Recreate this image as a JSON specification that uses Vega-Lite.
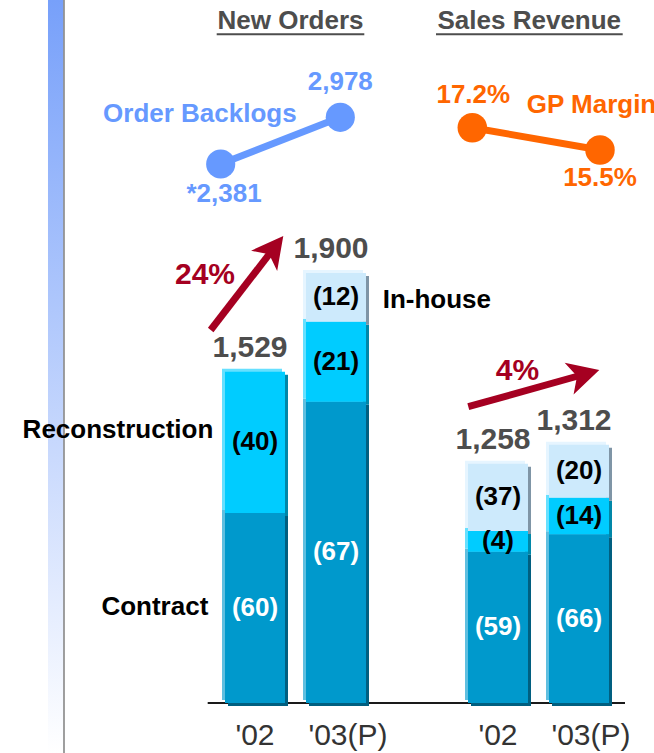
{
  "$schema": "https://vega.github.io/schema/vega-lite/v6.json",
  "width": 654,
  "height": 703,
  "autosize": "none",
  "padding": {"left": 0, "top": 0, "right": 0, "bottom": 50},
  "background": "#ffffff",
  "config": {"view": {"stroke": null}, "font": "Liberation Sans"},
  "datasets": {
    "bars": [
      {"chart": "New Orders", "period": "'02", "bar": "New Orders '02", "seg": "Contract", "ord": 1, "amount": 874, "pct": "(60)", "total": "1,529"},
      {"chart": "New Orders", "period": "'02", "bar": "New Orders '02", "seg": "Reconstruction", "ord": 2, "amount": 650, "pct": "(40)", "total": "1,529"},
      {"chart": "New Orders", "period": "'03(P)", "bar": "New Orders '03(P)", "seg": "Contract", "ord": 1, "amount": 1386, "pct": "(67)", "total": "1,900"},
      {"chart": "New Orders", "period": "'03(P)", "bar": "New Orders '03(P)", "seg": "Reconstruction", "ord": 2, "amount": 368, "pct": "(21)", "total": "1,900"},
      {"chart": "New Orders", "period": "'03(P)", "bar": "New Orders '03(P)", "seg": "In-house", "ord": 3, "amount": 224, "pct": "(12)", "total": "1,900"},
      {"chart": "Sales Revenue", "period": "'02", "bar": "Sales Revenue '02", "seg": "Contract", "ord": 1, "amount": 696, "pct": "(59)", "total": "1,258"},
      {"chart": "Sales Revenue", "period": "'02", "bar": "Sales Revenue '02", "seg": "Reconstruction", "ord": 2, "amount": 95, "pct": "(4)", "total": "1,258"},
      {"chart": "Sales Revenue", "period": "'02", "bar": "Sales Revenue '02", "seg": "In-house", "ord": 3, "amount": 310, "pct": "(37)", "total": "1,258"},
      {"chart": "Sales Revenue", "period": "'03(P)", "bar": "Sales Revenue '03(P)", "seg": "Contract", "ord": 1, "amount": 776, "pct": "(66)", "total": "1,312"},
      {"chart": "Sales Revenue", "period": "'03(P)", "bar": "Sales Revenue '03(P)", "seg": "Reconstruction", "ord": 2, "amount": 168, "pct": "(14)", "total": "1,312"},
      {"chart": "Sales Revenue", "period": "'03(P)", "bar": "Sales Revenue '03(P)", "seg": "In-house", "ord": 3, "amount": 244, "pct": "(20)", "total": "1,312"}
    ],
    "backlog": [
      {"series": "Order Backlogs", "period": "'02", "value": 2381, "label": "*2,381"},
      {"series": "Order Backlogs", "period": "'03(P)", "value": 2978, "label": "2,978"}
    ],
    "margin": [
      {"series": "GP Margin", "period": "'02", "value": 17.2, "label": "17.2%"},
      {"series": "GP Margin", "period": "'03(P)", "value": 15.5, "label": "15.5%"}
    ]
  },
  "layer": [
    {
      "layer": [
        {
          "data": {"values": [{}]},
          "layer": [
            {
              "mark": {"type": "rect", "color": {"gradient": "linear", "x1": 0, "y1": 0, "x2": 0, "y2": 1, "stops": [{"offset": 0, "color": "#77a0fa"}, {"offset": 1, "color": "#ffffff"}]}},
              "encoding": {
                "x": {"datum": -1.5556, "type": "quantitative", "scale": {"domain": [-2.1481, 5.9259], "nice": false, "zero": false}, "axis": null},
                "x2": {"datum": -1.3642},
                "y": {"datum": 3233.8, "type": "quantitative", "axis": null},
                "y2": {"datum": -230}
              }
            },
            {
              "mark": {"type": "rule", "color": "#7f7f7f", "strokeWidth": 1.5},
              "encoding": {"x": {"datum": -1.358, "type": "quantitative", "axis": null}, "y": {"datum": 3233.8, "type": "quantitative", "axis": null}, "y2": {"datum": -230}}
            },
            {
              "mark": {"type": "rule", "color": "#1a1a1a", "strokeWidth": 2},
              "encoding": {"x": {"datum": 0.416, "type": "quantitative", "axis": null}, "x2": {"datum": 5.5679}, "y": {"datum": 0, "type": "quantitative", "axis": null}}
            },
            {
              "mark": {"type": "text", "text": "Reconstruction", "align": "right", "baseline": "middle", "fontSize": 26, "fontWeight": "bold", "color": "#000000"},
              "encoding": {"x": {"datum": 0.4852, "type": "quantitative", "axis": null}, "y": {"datum": 1255.8, "type": "quantitative", "axis": null}}
            },
            {
              "mark": {"type": "text", "text": "Contract", "align": "right", "baseline": "middle", "fontSize": 26, "fontWeight": "bold", "color": "#000000"},
              "encoding": {"x": {"datum": 0.4235, "type": "quantitative", "axis": null}, "y": {"datum": 443, "type": "quantitative", "axis": null}}
            },
            {
              "mark": {"type": "text", "text": "In-house", "align": "left", "baseline": "middle", "fontSize": 26, "fontWeight": "bold", "color": "#000000"},
              "encoding": {"x": {"datum": 2.5765, "type": "quantitative", "axis": null}, "y": {"datum": 1853.8, "type": "quantitative", "axis": null}}
            },
            {
              "mark": {"type": "text", "text": "New Orders", "align": "center", "baseline": "middle", "fontSize": 26, "fontWeight": "bold", "color": "#4d4d4d"},
              "encoding": {"x": {"datum": 1.4383, "type": "quantitative", "axis": null}, "y": {"datum": 3139.5, "type": "quantitative", "axis": null}}
            },
            {
              "mark": {"type": "text", "text": "Sales Revenue", "align": "center", "baseline": "middle", "fontSize": 26, "fontWeight": "bold", "color": "#4d4d4d"},
              "encoding": {"x": {"datum": 4.3864, "type": "quantitative", "axis": null}, "y": {"datum": 3139.5, "type": "quantitative", "axis": null}}
            },
            {
              "mark": {"type": "rule", "color": "#4d4d4d", "strokeWidth": 2},
              "encoding": {"x": {"datum": 0.5272, "type": "quantitative", "axis": null}, "x2": {"datum": 2.3494}, "y": {"datum": 3076, "type": "quantitative", "axis": null}}
            },
            {
              "mark": {"type": "rule", "color": "#4d4d4d", "strokeWidth": 2},
              "encoding": {"x": {"datum": 3.2346, "type": "quantitative", "axis": null}, "x2": {"datum": 5.5395}, "y": {"datum": 3076, "type": "quantitative", "axis": null}}
            },
            {
              "mark": {"type": "rule", "color": "#a50021", "strokeWidth": 7},
              "encoding": {"x": {"datum": 0.4531, "type": "quantitative", "axis": null}, "x2": {"datum": 1.2247}, "y": {"datum": 1715.8, "type": "quantitative", "axis": null}, "y2": {"datum": 2088.2}}
            },
            {
              "mark": {"type": "point", "shape": "M0,-1L1,0.9L0,0.4L-1,0.9Z", "filled": true, "opacity": 1, "color": "#a50021", "size": 1089, "angle": 37.7},
              "encoding": {"x": {"datum": 1.2247, "type": "quantitative", "axis": null}, "y": {"datum": 2088.2, "type": "quantitative", "axis": null}}
            },
            {
              "mark": {"type": "rule", "color": "#a50021", "strokeWidth": 7},
              "encoding": {"x": {"datum": 3.6333, "type": "quantitative", "axis": null}, "x2": {"datum": 5.0543}, "y": {"datum": 1363.0, "type": "quantitative", "axis": null}, "y2": {"datum": 1511.1}}
            },
            {
              "mark": {"type": "point", "shape": "M0,-1L1,0.9L0,0.4L-1,0.9Z", "filled": true, "opacity": 1, "color": "#a50021", "size": 1089, "angle": 74.3},
              "encoding": {"x": {"datum": 5.0543, "type": "quantitative", "axis": null}, "y": {"datum": 1511.1, "type": "quantitative", "axis": null}}
            },
            {
              "mark": {"type": "text", "text": "24%", "align": "center", "baseline": "middle", "fontSize": 30, "fontWeight": "bold", "color": "#a50021"},
              "encoding": {"x": {"datum": 0.3827, "type": "quantitative", "axis": null}, "y": {"datum": 1968.8, "type": "quantitative", "axis": null}}
            },
            {
              "mark": {"type": "text", "text": "4%", "align": "center", "baseline": "middle", "fontSize": 30, "fontWeight": "bold", "color": "#a50021"},
              "encoding": {"x": {"datum": 4.2407, "type": "quantitative", "axis": null}, "y": {"datum": 1527.2, "type": "quantitative", "axis": null}}
            }
          ]
        },
        {
          "data": {"name": "bars"},
          "encoding": {
            "x": {
              "field": "bar", "type": "nominal", "sort": null,
              "scale": {"type": "band", "domain": ["New Orders '02", "New Orders '03(P)", "gap", "Sales Revenue '02", "Sales Revenue '03(P)"], "range": [214.5, 619.5], "paddingInner": 0.2593, "paddingOuter": 0.12965},
              "axis": {
                "values": ["New Orders '02", "New Orders '03(P)", "Sales Revenue '02", "Sales Revenue '03(P)"],
                "labelExpr": "indexof(datum.value, '03') >= 0 ? \"'03(P)\" : \"'02\"",
                "domain": false, "ticks": false, "grid": false, "title": null,
                "labelAngle": 0, "labelFontSize": 30, "labelFont": "Liberation Sans", "labelFontWeight": "normal",
                "labelColor": "#333333", "labelPadding": 17,
                "labelOffset": {"condition": {"test": "indexof(datum.value, '03') >= 0", "value": 12}, "value": 0}
              }
            }
          },
          "layer": [
            {
              "mark": {"type": "bar", "xOffset": 3, "x2Offset": 3, "yOffset": 3, "y2Offset": 3},
              "encoding": {
                "y": {"field": "amount", "type": "quantitative", "stack": "zero", "scale": {"domain": [0, 3233.8], "nice": false, "zero": false}, "axis": null},
                "detail": {"field": "seg", "type": "nominal"},
                "order": {"field": "ord", "type": "quantitative"},
                "color": {"condition": [{"test": "datum.seg === 'Contract'", "value": "#005f80"}, {"test": "datum.seg === 'Reconstruction'", "value": "#0087a8"}], "value": "#7f95a6"}
              }
            },
            {
              "mark": {"type": "bar", "xOffset": -3, "x2Offset": -3, "yOffset": -3, "y2Offset": -3},
              "encoding": {
                "y": {"field": "amount", "type": "quantitative", "stack": "zero", "axis": null},
                "detail": {"field": "seg", "type": "nominal"},
                "order": {"field": "ord", "type": "quantitative"},
                "color": {"condition": [{"test": "datum.seg === 'Contract'", "value": "#5fbfe0"}, {"test": "datum.seg === 'Reconstruction'", "value": "#66e0ff"}], "value": "#e6f5ff"}
              }
            },
            {
              "mark": {"type": "bar"},
              "encoding": {
                "y": {"field": "amount", "type": "quantitative", "stack": "zero", "axis": null},
                "detail": {"field": "seg", "type": "nominal"},
                "order": {"field": "ord", "type": "quantitative"},
                "color": {"condition": [{"test": "datum.seg === 'Contract'", "value": "#0099cc"}, {"test": "datum.seg === 'Reconstruction'", "value": "#00ccff"}], "value": "#cdeafc"}
              }
            },
            {
              "mark": {"type": "text", "fontSize": 26, "fontWeight": "bold", "baseline": "middle", "align": "center"},
              "encoding": {
                "y": {"field": "amount", "type": "quantitative", "stack": "zero", "bandPosition": 0.5, "axis": null},
                "detail": {"field": "seg", "type": "nominal"},
                "order": {"field": "ord", "type": "quantitative"},
                "text": {"field": "pct"},
                "color": {"condition": {"test": "datum.seg === 'Contract'", "value": "#ffffff"}, "value": "#000000"}
              }
            },
            {
              "transform": [{"aggregate": [{"op": "sum", "field": "amount", "as": "top"}], "groupby": ["bar", "total"]}],
              "mark": {"type": "text", "fontSize": 30, "fontWeight": "bold", "color": "#4d4d4d", "baseline": "alphabetic", "align": "center", "dy": -15, "dx": -5},
              "encoding": {
                "y": {"field": "top", "type": "quantitative", "axis": null},
                "text": {"field": "total"}
              }
            }
          ]
        }
      ],
      "resolve": {"scale": {"x": "independent"}}
    },
    {
      "data": {"name": "backlog"},
      "encoding": {
        "x": {"field": "period", "type": "ordinal", "sort": null, "scale": {"type": "point", "domain": ["'02", "'03(P)"], "range": [220.7, 340.3], "padding": 0}, "axis": null},
        "y": {"field": "value", "type": "quantitative", "scale": {"domain": [-4509.6, 4477.6], "nice": false, "zero": false}, "axis": null}
      },
      "layer": [
        {"mark": {"type": "line", "color": "#6699ff", "strokeWidth": 7}},
        {"mark": {"type": "circle", "color": "#6699ff", "size": 850, "opacity": 1}},
        {
          "transform": [{"filter": "datum.period == \"'03(P)\""}],
          "mark": {"type": "text", "color": "#6699ff", "fontSize": 26, "fontWeight": "bold", "baseline": "middle", "align": "center", "dy": -35.6},
          "encoding": {"text": {"field": "label"}}
        },
        {
          "transform": [{"filter": "datum.period == \"'02\""}],
          "mark": {"type": "text", "color": "#6699ff", "fontSize": 26, "fontWeight": "bold", "baseline": "middle", "align": "center", "dy": 30, "dx": 3.3},
          "encoding": {"text": {"field": "label"}}
        },
        {
          "transform": [{"filter": "datum.period == \"'02\""}],
          "mark": {"type": "text", "color": "#6699ff", "fontSize": 26, "fontWeight": "bold", "baseline": "middle", "align": "right", "dx": 76, "dy": -50},
          "encoding": {"text": {"field": "series"}}
        }
      ]
    },
    {
      "data": {"name": "margin"},
      "encoding": {
        "x": {"field": "period", "type": "ordinal", "sort": null, "scale": {"type": "point", "domain": ["'02", "'03(P)"], "range": [472.3, 600], "padding": 0}, "axis": null},
        "y": {"field": "value", "type": "quantitative", "scale": {"domain": [-26.656, 26.935], "nice": false, "zero": false}, "axis": null}
      },
      "layer": [
        {"mark": {"type": "line", "color": "#ff6600", "strokeWidth": 7}},
        {"mark": {"type": "circle", "color": "#ff6600", "size": 870, "opacity": 1}},
        {
          "transform": [{"filter": "datum.period == \"'02\""}],
          "mark": {"type": "text", "color": "#ff6600", "fontSize": 26, "fontWeight": "bold", "baseline": "middle", "align": "center", "dy": -33, "dx": 1},
          "encoding": {"text": {"field": "label"}}
        },
        {
          "transform": [{"filter": "datum.period == \"'03(P)\""}],
          "mark": {"type": "text", "color": "#ff6600", "fontSize": 26, "fontWeight": "bold", "baseline": "middle", "align": "center", "dy": 28.3},
          "encoding": {"text": {"field": "label"}}
        },
        {
          "transform": [{"filter": "datum.period == \"'02\""}],
          "mark": {"type": "text", "color": "#ff6600", "fontSize": 26, "fontWeight": "bold", "baseline": "middle", "align": "left", "dx": 54.4, "dy": -22.7},
          "encoding": {"text": {"field": "series"}}
        }
      ]
    }
  ],
  "resolve": {"scale": {"x": "independent", "y": "independent"}}
}
